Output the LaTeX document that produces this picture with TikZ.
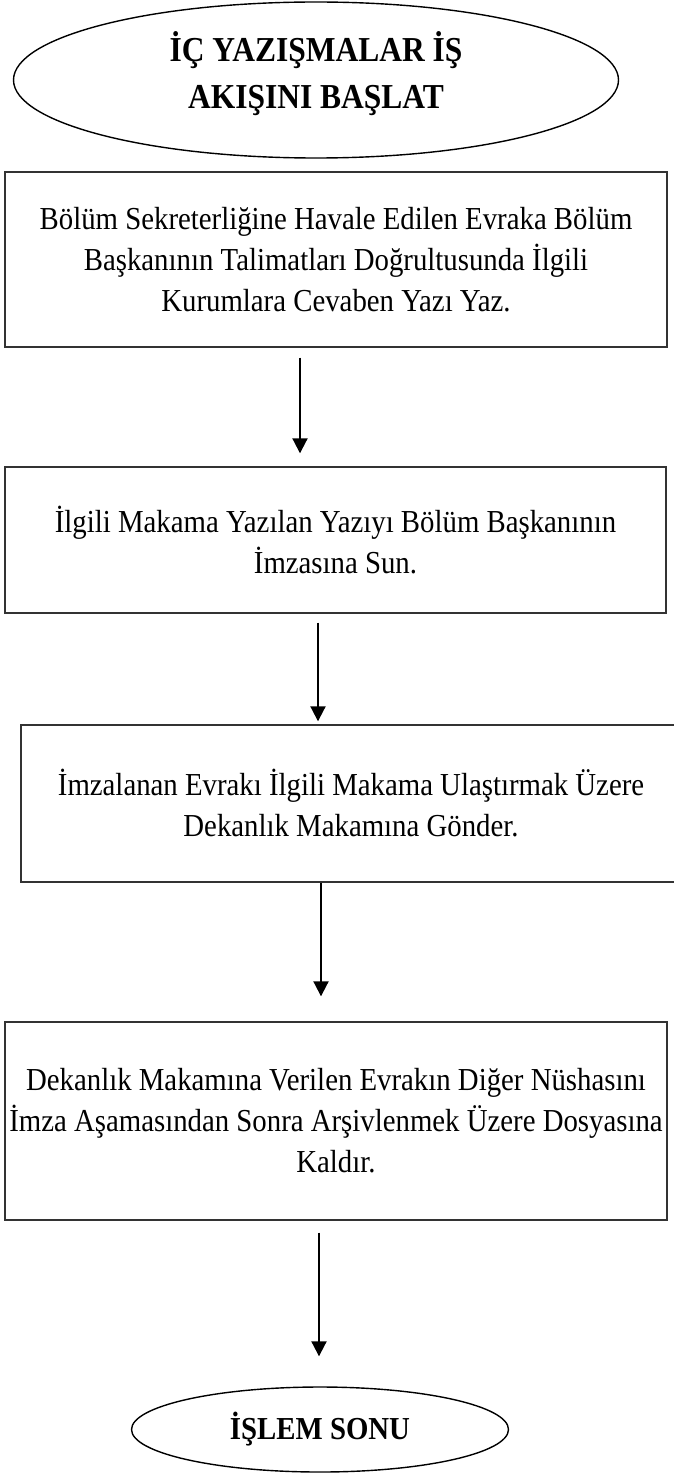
\documentclass[tikz,border=0pt]{standalone}
\usepackage{fontspec}
\setmainfont{Liberation Serif}
\newfontfamily\boxfont{Liberation Serif}[FakeStretch=0.9]
\usetikzlibrary{shapes.geometric,arrows.meta}
\begin{document}
\begin{tikzpicture}[x=1pt,y=-1pt,
  box/.style={draw=black!80, line width=1.4pt, rectangle, inner sep=0pt, align=center,
    font=\boxfont\fontsize{32}{41}\selectfont},
  term/.style={draw=black, line width=1.4pt, ellipse, inner sep=0pt},
  lbl/.style={align=center, font=\boxfont\bfseries\fontsize{35}{47}\selectfont},
  arr/.style={-{Triangle[width=15pt,length=15pt]}, line width=2pt, black}]
\useasboundingbox (0,0) rectangle (673,1474);
% start terminal
\node[term, minimum width=605pt, minimum height=156pt] (start) at (316,80) {};
\node[lbl] (starttext) at (316,74) {İÇ YAZIŞMALAR İŞ\\AKIŞINI BAŞLAT};
% boxes
\node[box, minimum width=662pt, minimum height=175pt] (b1) at (336,259.5)
  {Bölüm Sekreterliğine Havale Edilen Evraka Bölüm\\Başkanının Talimatları Doğrultusunda İlgili\\Kurumlara Cevaben Yazı Yaz.};
\node[box, minimum width=661pt, minimum height=146pt] (b2) at (335.5,540)
  {İlgili Makama Yazılan Yazıyı Bölüm Başkanının\\İmzasına Sun.};
\node[box, minimum width=660pt, minimum height=157pt] (b3) at (351,803.5)
  {İmzalanan Evrakı İlgili Makama Ulaştırmak Üzere\\Dekanlık Makamına Gönder.};
\node[box, minimum width=662pt, minimum height=198pt] (b4) at (336,1121)
  {Dekanlık Makamına Verilen Evrakın Diğer Nüshasını\\İmza Aşamasından Sonra Arşivlenmek Üzere Dosyasına\\Kaldır.};
% end terminal
\node[term, minimum width=377pt, minimum height=85pt] (end) at (320,1429.5) {};
\node[lbl, font=\boxfont\bfseries\fontsize{32}{40}\selectfont] (endtext) at (end.center) {İŞLEM SONU};
% connectors
\draw[arr] ([xshift=-36pt,yshift=-10pt]b1.south) -- ([xshift=-35.5pt,yshift=13pt]b2.north);
\draw[arr] ([xshift=-17.5pt,yshift=-9pt]b2.south) -- ([xshift=-33pt,yshift=3pt]b3.north);
\draw[arr] ([xshift=-30pt]b3.south) -- ([xshift=-15pt,yshift=25pt]b4.north);
\draw[arr] ([xshift=-17pt,yshift=-12pt]b4.south) -- ([xshift=-1pt,yshift=30pt]end.north);
\end{tikzpicture}
\end{document}
